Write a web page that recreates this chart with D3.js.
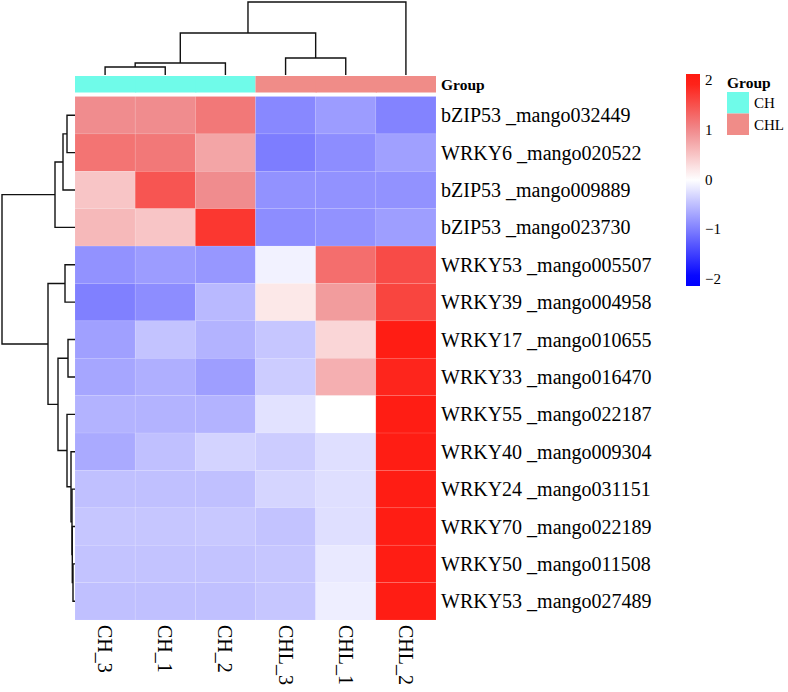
<!DOCTYPE html>
<html>
<head>
<meta charset="utf-8">
<script src="https://cdn.jsdelivr.net/npm/d3@7"></script>
<style>
  body { margin: 0; background: #fff; }
  text { font-family: "Liberation Serif", "Times New Roman", serif; }
</style>
</head>
<body>
<svg id="chart"></svg>
<script>
const width = 788;
const height = 692;

// data
const samples = ["CH_3", "CH_1", "CH_2", "CHL_3", "CHL_1", "CHL_2"];
const sampleGroup = ["CH", "CH", "CH", "CHL", "CHL", "CHL"];
const groupNames = ["CH", "CHL"];
const genes = [
    "bZIP53 _mango032449", "WRKY6 _mango020522", "bZIP53 _mango009889", "bZIP53 _mango023730",
    "WRKY53 _mango005507", "WRKY39 _mango004958", "WRKY17 _mango010655", "WRKY33 _mango016470",
    "WRKY55 _mango022187", "WRKY40 _mango009304", "WRKY24 _mango031151", "WRKY70 _mango022189",
    "WRKY50 _mango011508", "WRKY53 _mango027489"
];
const zscores = [
    [0.98, 0.98, 1.16, -0.94, -0.78, -0.98],
    [1.20, 1.16, 0.77, -1.02, -0.90, -0.75],
    [0.50, 1.47, 0.98, -0.86, -0.86, -0.86],
    [0.60, 0.50, 1.74, -0.90, -0.86, -0.76],
    [-0.86, -0.78, -0.82, -0.10, 1.25, 1.56],
    [-1.00, -0.90, -0.55, 0.20, 0.85, 1.62],
    [-0.75, -0.47, -0.60, -0.45, 0.35, 1.97],
    [-0.70, -0.63, -0.76, -0.40, 0.68, 1.90],
    [-0.60, -0.60, -0.60, -0.23, 0.00, 1.97],
    [-0.67, -0.50, -0.35, -0.40, -0.25, 1.97],
    [-0.50, -0.50, -0.50, -0.33, -0.25, 1.97],
    [-0.45, -0.45, -0.43, -0.47, -0.25, 1.97],
    [-0.47, -0.47, -0.47, -0.45, -0.17, 1.97],
    [-0.50, -0.50, -0.50, -0.45, -0.13, 1.97]
];
// hclust-like merges: negative = leaf (1-based, display order), positive = earlier merge
const colMerges = [[-1, -2, 8], [1, -3, 12], [-4, -5, 17], [2, 3, 42], [4, -6, 73]];
const rowMerges = [
    [-13, -14, 2], [-12, 1, 2.7], [-11, 2, 3], [-10, 3, 4], [-9, 4, 8],
    [-7, -8, 7], [6, 5, 17], [-5, -6, 10], [8, 7, 27],
    [-1, -2, 8], [10, -3, 12], [11, -4, 20], [12, 9, 73]
];
const legendTicks = [2, 1, 0, -1, -2];
const groupColors = ["#6ffbe9", "#f08c88"];

const svg = d3.select("#chart")
    .attr("width", width)
    .attr("height", height);

const x = d3.scaleBand().domain(samples).range([75, 436]);
const y = d3.scaleBand().domain(genes).range([96.5, 620]);

const color = d3.scaleLinear()
    .domain([-2, -1, 0, 1, 2])
    .range(["#0000ff", "#8080ff", "#ffffff", "#f08a8c", "#ff1a10"])
    .clamp(true);

const groupColor = d3.scaleOrdinal().domain(groupNames).range(groupColors);

// cells
const cells = [];
zscores.forEach((row, i) => row.forEach((v, j) => cells.push({gene: genes[i], sample: samples[j], v})));

svg.append("g").selectAll("rect")
    .data(cells)
    .join("rect")
    .attr("x", d => x(d.sample))
    .attr("y", d => y(d.gene))
    .attr("width", x.bandwidth())
    .attr("height", y.bandwidth())
    .attr("fill", d => color(d.v))
    .attr("stroke", "#ffffff")
    .attr("stroke-opacity", 0.15)
    .attr("stroke-width", 0.6);

// group annotation bar (slight overlap so same-group cells join without seams)
svg.append("g").selectAll("rect")
    .data(samples)
    .join("rect")
    .attr("x", d => x(d))
    .attr("y", 76)
    .attr("width", (d, i) => x.bandwidth() + (i < samples.length - 1 && sampleGroup[i] === sampleGroup[i + 1] ? 1 : 0))
    .attr("height", 16.5)
    .attr("fill", (d, i) => groupColor(sampleGroup[i]));

svg.append("text")
    .attr("x", 441)
    .attr("y", 84.5)
    .attr("dominant-baseline", "central")
    .attr("font-size", "15.5px")
    .attr("font-weight", "bold")
    .text("Group");

// row labels
svg.append("g").selectAll("text")
    .data(genes)
    .join("text")
    .attr("x", 441)
    .attr("y", d => y(d) + y.bandwidth() / 2)
    .attr("dominant-baseline", "central")
    .attr("font-size", "20px")
    .text(d => d);

// column labels (rotated)
svg.append("g").selectAll("text")
    .data(samples)
    .join("text")
    .attr("transform", d => `translate(${x(d) + x.bandwidth() / 2},625) rotate(90)`)
    .attr("dominant-baseline", "central")
    .attr("font-size", "20px")
    .text(d => d);

// dendrograms
function layout(merges, leafPos) {
    const nodes = [];
    const get = id => id < 0 ? {pos: leafPos(-id - 1), h: 0} : nodes[id - 1];
    merges.forEach(([a, b, h]) => {
        const na = get(a), nb = get(b);
        nodes.push({a: na, b: nb, h, pos: (na.pos + nb.pos) / 2});
    });
    return nodes;
}

const colH = d3.scaleLinear().domain([0, 73]).range([75, 2]);
const colNodes = layout(colMerges, i => x(samples[i]) + x.bandwidth() / 2);
svg.append("g").selectAll("path")
    .data(colNodes)
    .join("path")
    .attr("d", n => `M${n.a.pos},${colH(n.a.h)}V${colH(n.h)}H${n.b.pos}V${colH(n.b.h)}`)
    .attr("fill", "none")
    .attr("stroke", "#111")
    .attr("stroke-width", 1.4);

const rowH = d3.scaleLinear().domain([0, 73]).range([75, 2]);
const rowNodes = layout(rowMerges, i => y(genes[i]) + y.bandwidth() / 2);
svg.append("g").selectAll("path")
    .data(rowNodes)
    .join("path")
    .attr("d", n => `M${rowH(n.a.h)},${n.a.pos}H${rowH(n.h)}V${n.b.pos}H${rowH(n.b.h)}`)
    .attr("fill", "none")
    .attr("stroke", "#111")
    .attr("stroke-width", 1.4);

// colour legend
const ly = d3.scaleLinear().domain([-2.15, 2.13]).range([286, 74]);
const grad = svg.append("defs").append("linearGradient")
    .attr("id", "grad")
    .attr("x1", 0).attr("y1", 1).attr("x2", 0).attr("y2", 0);
d3.range(0, 1.0001, 0.05).forEach(t => {
    const v = -2.15 + t * 4.28;
    grad.append("stop").attr("offset", t).attr("stop-color", color(v));
});
svg.append("rect")
    .attr("x", 686)
    .attr("y", ly(2.13))
    .attr("width", 14)
    .attr("height", ly(-2.15) - ly(2.13))
    .attr("fill", "url(#grad)");

svg.append("g").selectAll("text")
    .data(legendTicks)
    .join("text")
    .attr("x", 705)
    .attr("y", d => ly(d))
    .attr("dominant-baseline", "central")
    .attr("font-size", "15px")
    .text(d => d < 0 ? "\u2212" + Math.abs(d) : d);

// group legend
svg.append("text")
    .attr("x", 727)
    .attr("y", 82)
    .attr("dominant-baseline", "central")
    .attr("font-size", "15.5px")
    .attr("font-weight", "bold")
    .text("Group");

const lg = svg.append("g").selectAll("g")
    .data(groupNames)
    .join("g")
    .attr("transform", (d, i) => `translate(727,${92 + i * 21.5})`);
lg.append("rect")
    .attr("width", 22)
    .attr("height", 21.5)
    .attr("fill", d => groupColor(d));
lg.append("text")
    .attr("x", 27)
    .attr("y", 11)
    .attr("dominant-baseline", "central")
    .attr("font-size", "15px")
    .text(d => d);
</script>
</body>
</html>
